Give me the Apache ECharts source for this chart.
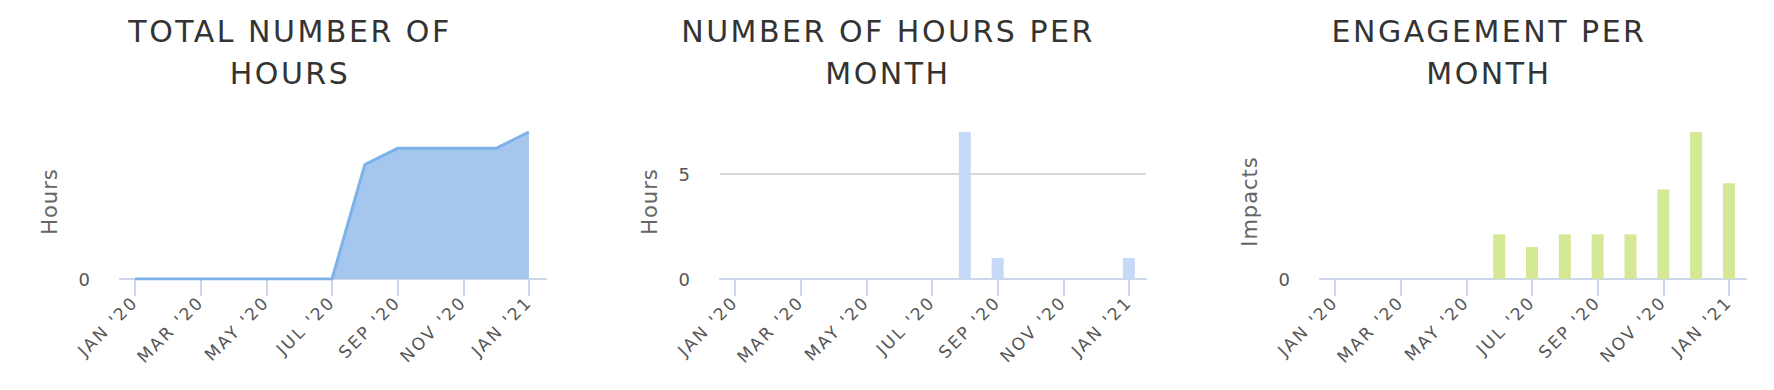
<!DOCTYPE html>
<html><head><meta charset="utf-8">
<script src="https://cdn.jsdelivr.net/npm/echarts@6/dist/echarts.min.js"></script>
<style>
html,body{margin:0;padding:0;background:#fff;}
#c{width:1774px;height:390px;}
#c text[style*="30px"]{letter-spacing:2.5px;}
#c text[style*="17px"]{letter-spacing:2.3px;}
#c text[style*="21px"]{letter-spacing:1px;}
</style></head><body><div id="c"></div>
<script>
// ---- data ----
const months = ["JAN '20","FEB '20","MAR '20","APR '20","MAY '20","JUN '20","JUL '20","AUG '20","SEP '20","OCT '20","NOV '20","DEC '20","JAN '21"];
const tickLabels = ["JAN '20","MAR '20","MAY '20","JUL '20","SEP '20","NOV '20","JAN '21"];
const totalHours = [0,0,0,0,0,0,0,7,8,8,8,8,9];
const hoursPerMonth = [0,0,0,0,0,0,0,7,1,0,0,0,1];
const engagement = [0,0,0,0,0,7,5,7,7,7,14,23,15];
const titles = ["TOTAL NUMBER OF\nHOURS","NUMBER OF HOURS PER\nMONTH","ENGAGEMENT PER\nMONTH"];
const yNames = ["Hours","Hours","Impacts"];
const yTickLabels = [[0],[0,5],[0]];

// ---- build ----
const tickIdx = tickLabels.map(l => months.indexOf(l));
const pairs = arr => arr.map((v,i)=>[i,v]);
const FONT = '"DejaVu Sans", sans-serif';
const gridLeft = [120, 720, 1320];
const titleX = [290, 888, 1489];
const yMax = [Math.max(...totalHours), Math.max(...hoursPerMonth), Math.max(...engagement)];
const yInterval = [yMax[0], 5, yMax[2]];

const grids = gridLeft.map(l => ({left:l, top:132, width:426, height:147}));
const xAxes = gridLeft.map((l,i) => ({
  type:'value', gridIndex:i, min:-0.46, max:12.52,
  axisLine:{show:true, onZero:false, lineStyle:{color:'#ccd6eb', width:2}},
  axisTick:{show:true, customValues:tickIdx, length:17, lineStyle:{color:'#ccd6eb', width:2}},
  axisLabel:{customValues:tickIdx, formatter:v=>months[Math.round(v)], rotate:45, margin:20,
             fontSize:17, fontFamily:FONT, color:'#555'},
  splitLine:{show:false}
}));
const yAxes = gridLeft.map((l,i) => ({
  type:'value', gridIndex:i, min:0, max:yMax[i], interval:yInterval[i],
  name:yNames[i], nameLocation:'middle', nameGap:60,
  nameTextStyle:{fontSize:21, fontFamily:FONT, color:'#666', padding:[0,0,0,8]},
  axisLine:{show:false}, axisTick:{show:false},
  axisLabel:{customValues:yTickLabels[i], margin:30, fontSize:18, fontFamily:FONT, color:'#555',
             verticalAlign:'middle', padding:[6,0,0,0]},
  splitLine:{show:i===1, showMinLine:false, showMaxLine:false, lineStyle:{color:'#d8d8d8', width:2}}
}));

const option = {
  animation:false,
  backgroundColor:'#fff',
  grid:grids, xAxis:xAxes, yAxis:yAxes,
  graphic: titles.map((t,i)=>({type:'text', x:titleX[i], y:10,
    style:{text:t, font:'30px ' + FONT, fontSize:30, fontFamily:FONT, fill:'#333', textAlign:'center', align:'center', lineHeight:42}})),
  series:[
    {type:'line', xAxisIndex:0, yAxisIndex:0, data:pairs(totalHours), symbol:'none',
     lineStyle:{color:'#7cb2e8', width:3}, areaStyle:{color:'#a5c7ed', opacity:1}},
    {type:'bar', xAxisIndex:1, yAxisIndex:1, data:pairs(hoursPerMonth), barWidth:12,
     itemStyle:{color:'#c8d9f8'}},
    {type:'bar', xAxisIndex:2, yAxisIndex:2, data:pairs(engagement), barWidth:12,
     itemStyle:{color:'#d4e896'}}
  ]
};
const chart = echarts.init(document.getElementById('c'), null, {renderer:'svg'});
chart.setOption(option);
</script></body></html>
